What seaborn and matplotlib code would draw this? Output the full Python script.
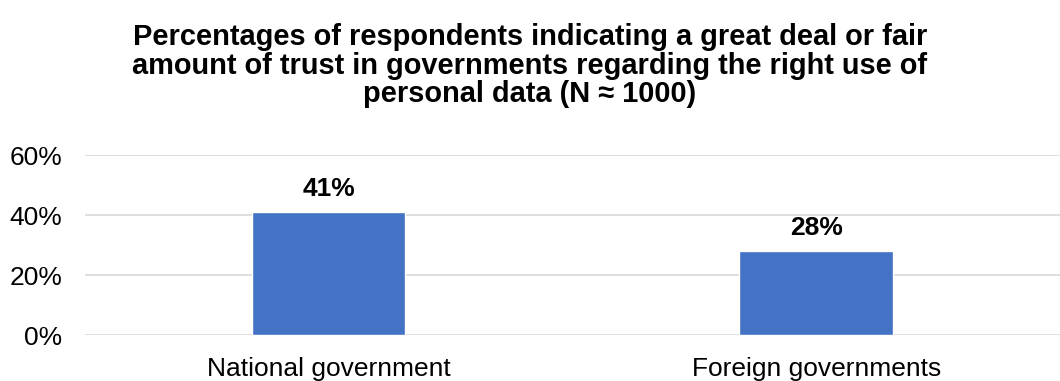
import matplotlib
matplotlib.use("Agg")
import matplotlib.pyplot as plt
import seaborn as sns
import pandas as pd
from matplotlib.ticker import FuncFormatter

categories = ["National government", "Foreign governments"]
values = [41, 28]
value_labels = ["41%", "28%"]
y_ticks = [0, 20, 40, 60]

sns.set_theme(style="white")
plt.rcParams["font.family"] = ["Liberation Sans", "DejaVu Sans"]
plt.rcParams["text.color"] = "#000000"

df = pd.DataFrame({"category": categories, "value": values})

fig = plt.figure(figsize=(10.6, 3.81), dpi=100)
ax = fig.add_axes([0.080, 0.1207, 0.920, 0.4724])

sns.barplot(data=df, x="category", y="value", color="#4472C4",
            width=0.315, saturation=1, ax=ax, zorder=3)

ax.set_ylim(0, 60)
ax.set_yticks(y_ticks)
ax.yaxis.set_major_formatter(FuncFormatter(lambda v, _: f"{v:.0f}%"))
ax.grid(axis="y", color="#d9d9d9", linewidth=1.2, zorder=0)
ax.set_axisbelow(True)
for s in ax.spines.values():
    s.set_visible(False)
ax.set_xlabel("")
ax.set_ylabel("")
ax.tick_params(axis="y", labelsize=19, labelcolor="#000000", pad=16, length=0)
ax.tick_params(axis="x", labelsize=19, labelcolor="#000000", pad=16, length=0)

for patch, lab in zip(ax.patches, value_labels):
    ax.annotate(lab, (patch.get_x() + patch.get_width() / 2, patch.get_height()),
                xytext=(0, 8), textcoords="offset points",
                ha="center", va="bottom", fontsize=19, fontweight="bold",
                color="#000000")

fig.text(0.5, 1 - 23 / 381,
         "Percentages of respondents indicating a great deal or fair\n"
         "amount of trust in governments regarding the right use of\n"
         "personal data (N \u2248 1000)",
         ha="center", va="top", fontsize=20.9, fontweight="bold",
         linespacing=1.03, color="#000000")

fig.savefig("out.png", dpi=100)
